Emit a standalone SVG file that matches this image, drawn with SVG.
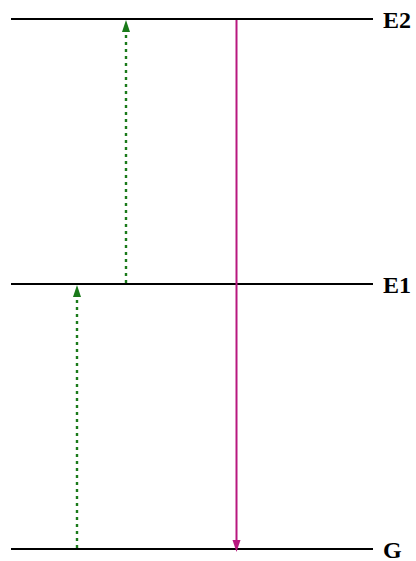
<svg xmlns="http://www.w3.org/2000/svg" width="416" height="561" viewBox="0 0 416 561">
<style>
.lvl{stroke:#000;stroke-width:2.2;fill:none}
.lbl{font-family:"Liberation Serif",serif;font-weight:bold;font-size:24px;fill:#000}
.exc{stroke:#1a7a1a;stroke-width:2.4;stroke-dasharray:3,4;fill:none}
.emi{stroke:#b8187f;stroke-width:2;fill:none}
</style>
<g id="E2"><line class="lvl" x1="11" y1="19" x2="373" y2="19"/><text class="lbl" x="383" y="27.5">E2</text></g>
<g id="E1"><line class="lvl" x1="11" y1="284" x2="373" y2="284"/><text class="lbl" x="383" y="292.5">E1</text></g>
<g id="G"><line class="lvl" x1="11" y1="549" x2="373" y2="549"/><text class="lbl" x="383" y="557.5">G</text></g>
<g id="connectors">
<line class="exc" x1="126" y1="283" x2="126" y2="30"/>
<path d="M122,32 L126,20 L130,32 Z" fill="#1a7a1a"/>
<line class="exc" x1="77" y1="548" x2="77" y2="295"/>
<path d="M73,297 L77,285 L81,297 Z" fill="#1a7a1a"/>
<line class="emi" x1="236.5" y1="20" x2="236.5" y2="542"/>
<path d="M232.5,540 L240.5,540 L236.5,552 Z" fill="#b8187f"/>
</g>
</svg>
